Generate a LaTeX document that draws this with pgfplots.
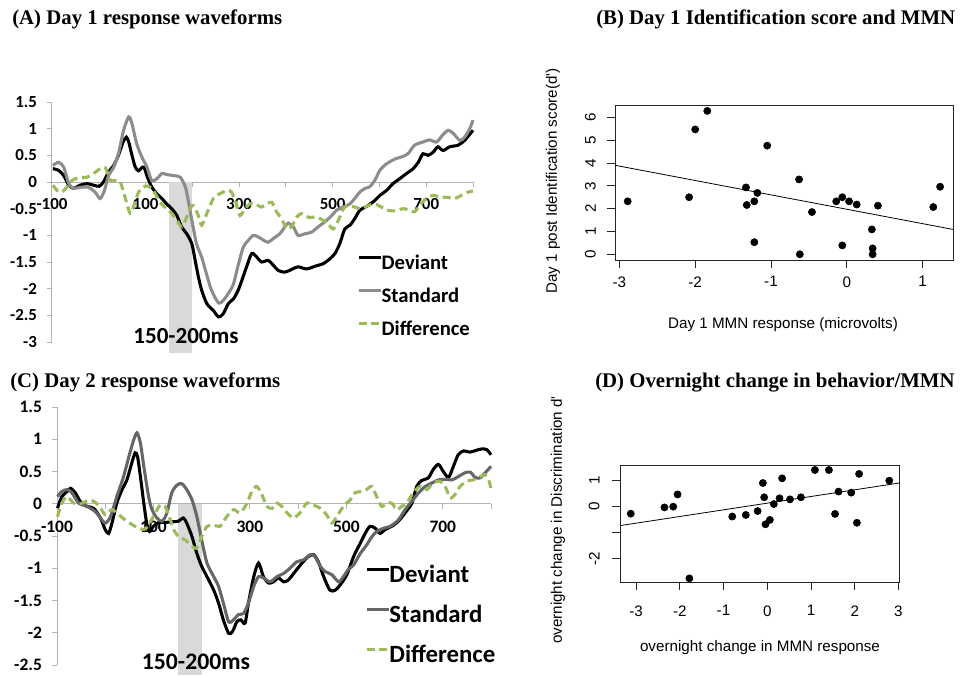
\documentclass[border=0pt]{standalone}
\usepackage{fontspec}
\setmainfont{Liberation Serif}
\newfontfamily\calibri{Carlito}
\newfontfamily\arial{Liberation Sans}
\usepackage{pgfplots}
\pgfplotsset{compat=1.18}

\definecolor{axgray}{HTML}{B3B3B3}
\definecolor{stdA}{HTML}{8C8C8C}
\definecolor{stdC}{HTML}{666666}
\definecolor{diffgreen}{HTML}{9BBB59}
\definecolor{shade}{HTML}{D9D9D9}

\pgfplotsset{
  wave/.style={scale only axis, clip=false, xmin=-100, xmax=800,
    axis x line=middle, axis y line=left,
    axis line style={-, draw=axgray, line width=0.75pt},
    hide obscured x ticks=false, hide obscured y ticks=false,
    xtick={-100,0,...,800}, xticklabels={-100,,100,,300,,500,,700,},
    tick style={draw=axgray, line width=0.75pt}, tick align=outside,
    major tick length=4pt,
    xticklabel style={yshift=-4.5pt}, yticklabel style={xshift=-3.75pt},
    legend cell align=left,
    legend image code/.code={\draw[##1, yshift=0.33em] (0pt,0pt) -- (17pt,0pt);},
  },
  dev/.style={black, line width=2.3pt, smooth, tension=0.45},
  stda/.style={stdA, line width=2.3pt, smooth, tension=0.45},
  stdc/.style={stdC, line width=2.3pt, smooth, tension=0.45},
  dif/.style={diffgreen, line width=2.3pt, dash pattern=on 6pt off 3.5pt, smooth, tension=0.45},
  rplot/.style={scale only axis, clip=false, xtick pos=bottom, ytick pos=left,
    tick align=outside, major tick length=5.8pt,
    axis line style={line width=0.6pt, draw=black!85},
    tick style={line width=0.6pt, black!85},
    ticklabel style={font=\arial\fontsize{11.4}{13}\selectfont},
    yticklabel style={rotate=90, anchor=south},
  },
}

\begin{document}
\begin{tikzpicture}
\path[use as bounding box] (0pt,0pt) rectangle (722.25pt,-506.25pt);

% (A) Day 1 waveforms
\begin{axis}[wave, at={(39pt,-256.5pt)}, anchor=south west,
  width=315.75pt, height=180pt, ymin=-3, ymax=1.5,
  ytick={-3,-2.5,...,1.5}, yticklabels={-3,-2.5,-2,-1.5,-1,-0.5,0,0.5,1,1.5},
  ticklabel style={font=\calibri\bfseries\fontsize{12.7}{14}\selectfont},
  legend style={at={(0.715,0.383)}, anchor=north west, draw=none, fill=none,
    font=\calibri\bfseries\fontsize{15.5}{17}\selectfont,
    nodes={inner sep=1pt, text height=11pt, text depth=0pt}, row sep=12pt,
    /tikz/every odd column/.append style={column sep=-2pt}}]
\addplot[fill=shade, draw=none, forget plot] coordinates {(150,0) (200,0) (200,-3.2) (150,-3.2)} -- cycle;
\addplot[dev] coordinates {(-98,0.25) (-86,0.22) (-75,0.12) (-64,-0.06) (-54,-0.12) (-40,-0.06)
 (-25,-0.03) (-11,-0.06) (1,-0.08) (10,0) (21,0.19) (32,0.31) (42,0.5) (52,0.75) (59,0.84)
 (64,0.75) (71,0.5) (78,0.28) (85,0.21) (92,0.27) (97,0.27) (104,0.09) (113,-0.09) (124,-0.22)
 (135,-0.31) (145,-0.41) (156,-0.5) (167,-0.63) (177,-0.84) (188,-0.97) (199,-1.16) (206,-1.47)
 (213,-1.78) (220,-2.03) (231,-2.28) (245,-2.41) (256,-2.53) (266,-2.47) (277,-2.28) (288,-2.19)
 (298,-2.03) (306,-1.84) (316,-1.59) (327,-1.34) (338,-1.41) (348,-1.5) (362,-1.47) (373,-1.56)
 (384,-1.66) (398,-1.69) (412,-1.64) (426,-1.59) (444,-1.63) (462,-1.58) (480,-1.53) (494,-1.44)
 (505,-1.34) (515,-1.16) (526,-0.88) (537,-0.81) (547,-0.69) (558,-0.53) (572,-0.46) (587,-0.37)
 (601,-0.25) (615,-0.16) (629,-0.03) (643,0.06) (658,0.16) (672,0.25) (683,0.37) (693,0.53)
 (704,0.5) (715,0.56) (725,0.66) (736,0.59) (750,0.66) (768,0.69) (782,0.78) (800,0.97)};
\addlegendentry{Deviant}
\addplot[stda] coordinates {(-98,0.31) (-86,0.37) (-75,0.28) (-64,-0.03) (-54,-0.12) (-40,-0.1)
 (-22,-0.1) (-8,-0.19) (3,-0.31) (12,-0.16) (21,0.12) (32,0.28) (42,0.53) (53,0.97) (64,1.22)
 (71,1.09) (81,0.72) (92,0.47) (103,0.28) (113,0.03) (124,0.06) (135,0.16) (145,0.14) (160,0.12)
 (174,0.09) (185,-0.09) (192,-0.38) (199,-0.72) (209,-1.16) (220,-1.41) (231,-1.75) (241,-2.03)
 (256,-2.27) (266,-2.22) (277,-2.09) (288,-1.91) (298,-1.56) (309,-1.22) (320,-1.09) (330,-1.0)
 (341,-1.03) (352,-1.09) (362,-1.13) (373,-1.06) (387,-0.97) (398,-0.84) (405,-0.77) (416,-0.84)
 (426,-1.0) (441,-0.97) (455,-0.94) (469,-0.84) (483,-0.75) (498,-0.63) (508,-0.53) (523,-0.47)
 (537,-0.41) (547,-0.31) (558,-0.19) (569,-0.12) (579,-0.09) (590,0.03) (601,0.22) (615,0.34)
 (633,0.43) (647,0.47) (661,0.53) (675,0.69) (693,0.75) (707,0.79) (722,0.75) (736,0.89)
 (747,0.97) (758,0.91) (772,0.78) (782,0.84) (793,1.0) (800,1.16)};
\addlegendentry{Standard}
\addplot[dif] coordinates {(-98,-0.06) (-89,-0.16) (-79,-0.19) (-68,-0.09) (-57,0.03) (-43,0.08)
 (-25,0.09) (-11,0.16) (3,0.25) (14,0.27) (25,0.03) (35,0.03) (46,0) (56,-0.28) (67,-0.59)
 (74,-0.47) (85,-0.19) (96,-0.09) (106,-0.08) (117,-0.16) (131,-0.38) (145,-0.5) (156,-0.59)
 (167,-0.72) (177,-0.84) (185,-0.72) (195,-0.5) (202,-0.44) (213,-0.63) (220,-0.81) (231,-0.59)
 (245,-0.31) (259,-0.22) (274,-0.16) (284,-0.19) (295,-0.44) (302,-0.63) (313,-0.5) (323,-0.41)
 (334,-0.41) (348,-0.47) (359,-0.41) (370,-0.38) (380,-0.56) (391,-0.69) (402,-0.88) (412,-0.84)
 (423,-0.66) (434,-0.59) (448,-0.66) (466,-0.66) (480,-0.72) (490,-0.78) (501,-0.88) (512,-0.72)
 (523,-0.5) (533,-0.44) (547,-0.47) (562,-0.5) (576,-0.44) (590,-0.41) (604,-0.47) (618,-0.53)
 (633,-0.54) (651,-0.5) (665,-0.53) (675,-0.56) (686,-0.44) (700,-0.31) (715,-0.25) (729,-0.28)
 (747,-0.29) (761,-0.31) (775,-0.25) (789,-0.19) (800,-0.17)};
\addlegendentry{Difference}
\end{axis}

% (C) Day 2 waveforms
\begin{axis}[wave, at={(42.75pt,-498.75pt)}, anchor=south west,
  width=325.5pt, height=193.5pt, ymin=-2.5, ymax=1.5,
  ytick={-2.5,-2,...,1.5}, yticklabels={-2.5,-2,-1.5,-1,-0.5,0,0.5,1,1.5},
  ticklabel style={font=\calibri\bfseries\fontsize{13.1}{15}\selectfont},
  xticklabel style={yshift=-1pt},
  legend style={at={(0.70,0.403)}, anchor=north west, draw=none, fill=none,
    font=\calibri\bfseries\fontsize{18.6}{20}\selectfont,
    nodes={inner sep=1pt, text height=13pt, text depth=0pt}, row sep=15pt,
    /tikz/every odd column/.append style={column sep=-2pt}}]
\addplot[fill=shade, draw=none, forget plot] coordinates {(150,0) (200,0) (200,-2.66) (150,-2.66)} -- cycle;
\addplot[dev] coordinates {(-99,-0.07) (-90,0.11) (-79,0.19) (-72,0.24) (-62,0.17) (-52,0.04)
 (-38,-0.04) (-24,-0.07) (-10,-0.22) (0,-0.4) (7,-0.46) (14,-0.3) (24,0.01) (35,0.22) (45,0.37)
 (55,0.63) (62,0.79) (67,0.73) (73,0.42) (80,0.01) (86,-0.3) (92,-0.43) (100,-0.35) (111,-0.29)
 (124,-0.29) (138,-0.28) (152,-0.27) (162,-0.22) (169,-0.3) (180,-0.51) (190,-0.77) (200,-0.97)
 (211,-1.13) (225,-1.34) (235,-1.54) (245,-1.8) (256,-2.01) (264,-1.98) (273,-1.83) (281,-1.8)
 (290,-1.85) (297,-1.54) (308,-1.13) (318,-0.92) (328,-1.13) (339,-1.23) (349,-1.21) (359,-1.15)
 (370,-1.21) (380,-1.18) (394,-1.05) (408,-0.92) (421,-0.82) (432,-0.79) (442,-0.9) (453,-1.13)
 (466,-1.34) (477,-1.34) (487,-1.26) (501,-1.1) (515,-0.82) (529,-0.61) (539,-0.46) (549,-0.35)
 (560,-0.38) (570,-0.46) (580,-0.4) (594,-0.35) (608,-0.27) (622,-0.14) (636,0.01) (646,0.27)
 (656,0.36) (670,0.4) (680,0.53) (691,0.61) (701,0.5) (712,0.41) (722,0.58) (732,0.76) (743,0.82)
 (756,0.8) (770,0.83) (781,0.85) (791,0.84) (800,0.76)};
\addlegendentry{Deviant}
\addplot[stdc] coordinates {(-99,0.11) (-90,0.19) (-79,0.22) (-69,0.17) (-55,0.01) (-38,-0.04)
 (-21,-0.12) (-10,-0.22) (0,-0.3) (11,-0.2) (24,0.11) (38,0.42) (49,0.73) (59,0.99) (66,1.1)
 (73,0.94) (80,0.58) (90,0.11) (97,-0.09) (107,-0.22) (118,-0.27) (128,-0.14) (138,0.17) (149,0.29)
 (159,0.31) (169,0.22) (180,0.06) (190,-0.2) (200,-0.56) (211,-0.92) (225,-1.13) (235,-1.28)
 (245,-1.54) (256,-1.83) (266,-1.8) (276,-1.72) (287,-1.7) (297,-1.54) (308,-1.28) (318,-1.13)
 (328,-1.15) (342,-1.21) (356,-1.13) (370,-1.08) (383,-1.0) (397,-0.9) (411,-0.87) (425,-0.79)
 (435,-0.82) (446,-0.97) (456,-1.05) (470,-1.1) (484,-1.21) (494,-1.13) (504,-1.02) (515,-0.95)
 (529,-0.77) (542,-0.64) (553,-0.51) (563,-0.43) (577,-0.38) (591,-0.35) (608,-0.25) (622,-0.09)
 (636,0.04) (650,0.17) (664,0.27) (677,0.32) (691,0.37) (706,0.38) (719,0.37) (732,0.42) (746,0.48)
 (757,0.49) (767,0.41) (777,0.4) (788,0.48) (800,0.58)};
\addlegendentry{Standard}
\addplot[dif] coordinates {(-99,-0.2) (-90,0.01) (-79,0.11) (-65,0.01) (-48,0.01) (-31,0.06)
 (-14,-0.02) (0,-0.17) (14,-0.09) (28,-0.17) (45,-0.27) (62,-0.35) (80,-0.4) (90,-0.33) (104,-0.14)
 (114,-0.02) (124,-0.04) (135,-0.25) (142,-0.4) (152,-0.51) (166,-0.56) (180,-0.66) (190,-0.69)
 (200,-0.51) (211,-0.35) (225,-0.33) (238,-0.35) (252,-0.2) (266,-0.09) (280,-0.14) (294,0.01)
 (304,0.19) (314,0.27) (325,0.14) (335,-0.04) (346,-0.07) (356,0.01) (366,-0.04) (377,-0.14)
 (390,-0.22) (404,-0.14) (418,0.01) (432,-0.02) (446,-0.07) (459,-0.17) (470,-0.3) (480,-0.2)
 (494,-0.04) (508,0.06) (518,0.17) (532,0.19) (542,0.22) (553,0.27) (563,0.11) (573,-0.04)
 (584,0.01) (594,0.01) (605,-0.09) (615,-0.04) (625,0.01) (639,0.17) (653,0.27) (667,0.22)
 (680,0.32) (694,0.35) (705,0.27) (715,0.09) (725,0.14) (736,0.27) (750,0.35) (763,0.37)
 (777,0.42) (788,0.45) (795,0.37) (800,0.24)};
\addlegendentry{Difference}
\end{axis}

% (B) Day 1 identification vs MMN
\begin{axis}[rplot, at={(461.25pt,-195pt)}, anchor=south west,
  width=253.5pt, height=116.25pt,
  xmin=-3.057, xmax=1.40, ymin=-0.25, ymax=6.54,
  xtick={-3,-2,-1,0,1}, xticklabels={-3,-2,-1,0,1},
  ytick={0,1,2,3,4,5,6}, yticklabels={0,1,2,3,4,5,6},
  xticklabel shift=3pt, yticklabel shift=5pt]
\addplot[only marks, mark=*, mark size=2.7pt, black] coordinates {
 (-2.89,2.32) (-2.08,2.50) (-2.00,5.47) (-1.84,6.28) (-1.33,2.93) (-1.32,2.16) (-1.22,2.32)
 (-1.18,2.69) (-1.22,0.53) (-1.05,4.76) (-0.63,3.28) (-0.62,0) (-0.46,1.85) (-0.14,2.32)
 (-0.06,2.50) (0.03,2.32) (0.13,2.18) (-0.06,0.39) (0.33,1.09) (0.34,0.26) (0.34,0)
 (0.41,2.13) (1.14,2.07) (1.23,2.96)};
\addplot[black, line width=0.6pt] coordinates {(-3.057,3.90) (1.40,1.09)};
\end{axis}

% (D) overnight change
\begin{axis}[rplot, at={(465pt,-436.7pt)}, anchor=south west,
  width=209.5pt, height=87.45pt,
  xmin=-3.366, xmax=3.02, ymin=-2.91, ymax=1.577,
  xtick={-3,-2,-1,0,1,2,3}, xticklabels={-3,-2,-1,0,1,2,3},
  ytick={-2,-1,0,1}, yticklabels={-2,,0,1},
  xticklabel shift=8pt, yticklabel shift=6pt]
\addplot[only marks, mark=*, mark size=2.7pt, black] coordinates {
 (-3.12,-0.27) (-2.35,-0.03) (-2.15,0) (-2.05,0.47) (-1.78,-2.76) (-0.80,-0.38) (-0.49,-0.32)
 (-0.22,-0.17) (-0.10,0.91) (-0.07,0.36) (-0.04,-0.68) (0.06,-0.51) (0.15,0.10) (0.28,0.32)
 (0.34,1.09) (0.52,0.28) (0.77,0.36) (1.09,1.41) (1.41,1.41) (1.63,0.58) (1.55,-0.28)
 (1.92,0.54) (2.05,-0.62) (2.10,1.26) (2.79,1.0)};
\addplot[black, line width=0.6pt] coordinates {(-3.366,-0.73) (3.02,0.91)};
\end{axis}

\begin{scope}[x=0.75pt, y=-0.75pt]
\node[anchor=base west, font=\bfseries\fontsize{15.6}{18}\selectfont, inner sep=0pt] at (12,24) {(A) Day 1 response waveforms};
\node[anchor=base west, font=\bfseries\fontsize{15.6}{18}\selectfont, inner sep=0pt] at (596,24) {(B) Day 1 Identification score and MMN};
\node[anchor=base west, font=\bfseries\fontsize{15.6}{18}\selectfont, inner sep=0pt] at (10,387) {(C) Day 2 response waveforms};
\node[anchor=base west, font=\bfseries\fontsize{15.6}{18}\selectfont, inner sep=0pt] at (595,387) {(D) Overnight change in behavior/MMN};
\node[font=\calibri\bfseries\fontsize{17.3}{19}\selectfont] at (186,336) {150-200ms};
\node[font=\calibri\bfseries\fontsize{17.8}{19}\selectfont] at (196,662) {150-200ms};
\node[font=\arial\fontsize{11.4}{13}\selectfont] at (783,325) {Day 1 MMN response (microvolts)};
\node[font=\arial\fontsize{11.4}{13}\selectfont, rotate=90] at (553,181) {Day 1 post Identification score(d')};
\node[font=\arial\fontsize{11.4}{13}\selectfont] at (760,648) {overnight change in MMN response};
\node[font=\arial\fontsize{11.4}{13}\selectfont, rotate=90] at (558,520) {overnight change in Discrimination d'};
\end{scope}
\end{tikzpicture}
\end{document}
